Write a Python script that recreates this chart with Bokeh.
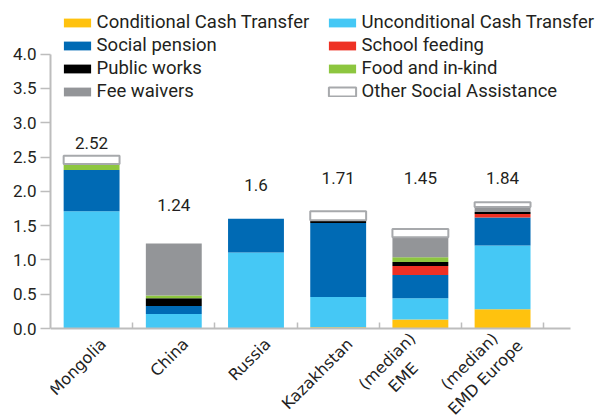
import numpy as np
from math import pi
from bokeh.plotting import figure
from bokeh.models import ColumnDataSource, FixedTicker, Legend, LegendItem, Range1d, LinearAxis
from bokeh.core.properties import value
from bokeh.embed import file_html
from bokeh.resources import INLINE

categories = ["Mongolia", "China", "Russia", "Kazakhstan", "(median)\nEME", "(median)\nEMD Europe"]
series_names = ["Conditional Cash Transfer", "Unconditional Cash Transfer", "Social pension",
                "School feeding", "Public works", "Food and in-kind", "Fee waivers",
                "Other Social Assistance"]
cct = [0.0, 0.0, 0.0, 0.02, 0.13, 0.28]
uct = [1.71, 0.21, 1.11, 0.44, 0.31, 0.93]
social_pension = [0.60, 0.12, 0.49, 1.08, 0.34, 0.41]
school_feeding = [0.0, 0.0, 0.0, 0.0, 0.13, 0.05]
public_works = [0.0, 0.11, 0.0, 0.04, 0.06, 0.03]
food_inkind = [0.09, 0.04, 0.0, 0.0, 0.07, 0.0]
fee_waivers = [0.0, 0.76, 0.0, 0.0, 0.29, 0.07]
other_sa = [0.12, 0.0, 0.0, 0.13, 0.12, 0.07]
totals = [2.52, 1.24, 1.6, 1.71, 1.45, 1.84]
total_label_y = [2.70, 1.80, 2.09, 2.19, 2.19, 2.19]
y_ticks = [0.0, 0.5, 1.0, 1.5, 2.0, 2.5, 3.0, 3.5, 4.0]

series = [cct, uct, social_pension, school_feeding, public_works, food_inkind, fee_waivers, other_sa]
fills = ["#FFC20E", "#45C8F5", "#006AB4", "#EE3124", "#000000", "#8DC63F", "#939598", "#FFFFFF"]
lines = [None, None, None, None, None, None, None, "#A7A9AC"]

FONT = "Roboto"
TXT = "#231F20"
AX = "#BDBDBD"

xs = np.arange(1, len(categories) + 1)

p = figure(width=598, height=415, output_backend="svg", toolbar_location=None,
           x_axis_location=None,
           x_range=Range1d(0.5, 7.167), y_range=Range1d(-1.268, 4.636),
           min_border_left=50, min_border_right=0, min_border_top=10, min_border_bottom=0)
p.outline_line_color = None
p.grid.grid_line_color = None
p.background_fill_color = None
p.border_fill_color = "white"

bottoms = np.zeros(len(categories))
renderers = []
for vals, fc, lc in zip(series, fills, lines):
    v = np.array(vals)
    mask = v > 0
    src = ColumnDataSource(dict(x=xs[mask], bottom=bottoms[mask], top=(bottoms + v)[mask]))
    r = p.vbar(x="x", bottom="bottom", top="top", width=0.68, source=src,
               fill_color=fc, line_color=lc, line_width=2 if lc else 0)
    renderers.append(r)
    bottoms = bottoms + v

# total labels
lsrc = ColumnDataSource(dict(x=xs, y=total_label_y, t=[f"{t:g}" for t in totals]))
p.text(x="x", y="y", text="t", source=lsrc, text_align="center", text_baseline="middle",
       text_font=value(FONT), text_font_size="17px", text_color=TXT)

# x axis drawn at zero, with inward ticks on category boundaries
xa = LinearAxis(fixed_location=0, bounds=(0.38, 6.83),
                ticker=FixedTicker(ticks=[], minor_ticks=list(xs + 0.5)))
xa.major_tick_line_color = None
xa.minor_tick_in = 6
xa.minor_tick_out = 0
xa.minor_tick_line_color = AX
xa.minor_tick_line_width = 1.5
xa.axis_line_color = AX
xa.axis_line_width = 2
p.add_layout(xa, "below")

# category labels, rotated, under the axis line
multi = np.array(["\n" in c for c in categories])
cats = np.array(categories, dtype=object)
s1 = ColumnDataSource(dict(x=xs[~multi], y=np.zeros((~multi).sum()), t=list(cats[~multi])))
s2 = ColumnDataSource(dict(x=xs[multi], y=np.zeros(multi.sum()), t=list(cats[multi])))
p.text(x="x", y="y", text="t", source=s1, angle=pi / 4, x_offset=5, y_offset=6,
       text_align="right", text_baseline="top", text_font=value("DejaVu Sans"),
       text_font_size="16px", text_color="#222222")
p.text(x="x", y="y", text="t", source=s2, angle=pi / 4, x_offset=-40, y_offset=26,
       text_align="center", text_baseline="top", text_font=value("DejaVu Sans"),
       text_font_size="16px", text_color="#222222")

ya = p.yaxis[0]
ya.ticker = FixedTicker(ticks=y_ticks)
ya.bounds = (0, 4)
ya.major_label_overrides = {t: f"{t:.1f}" for t in y_ticks}
ya.major_tick_in = 0
ya.major_tick_out = 10
ya.major_tick_line_color = AX
ya.major_tick_line_width = 1.5
ya.minor_tick_line_color = None
ya.axis_line_color = AX
ya.axis_line_width = 2
ya.major_label_text_font = FONT
ya.major_label_text_font_size = "17px"
ya.major_label_text_color = TXT
ya.major_label_standoff = 4

def make_legend(idx, x):
    items = [LegendItem(label=series_names[i], renderers=[renderers[i]]) for i in idx]
    return Legend(items=items, location=(x, 313), orientation="vertical",
                  glyph_width=34, glyph_height=11, label_standoff=3, label_height=20,
                  spacing=1, padding=0, margin=0, border_line_color=None,
                  background_fill_alpha=0, label_text_font=FONT,
                  label_text_font_size="18.5px", label_text_color=TXT)

p.add_layout(make_legend([0, 2, 4, 6], 9.6), "center")
p.add_layout(make_legend([1, 3, 5, 7], 274.6), "center")

open("out.html", "w").write(file_html(p, INLINE))
